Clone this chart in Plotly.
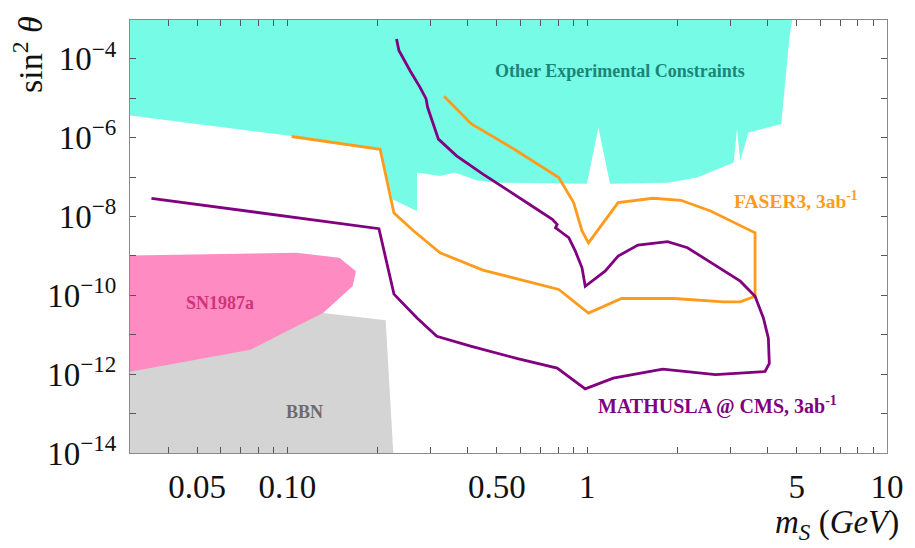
import math
import plotly.graph_objects as go

# ---------------- data ----------------
# MATHUSLA @ CMS, 3ab^-1 sensitivity contour (open polyline)
math_x = [0.0352, 0.202, 0.2267, 0.2706, 0.315, 0.411, 0.586, 0.794, 0.985, 1.221,
          1.786, 2.68, 3.92, 4.05, 4.02, 3.87, 3.63, 3.24, 2.645, 2.16,
          1.855, 1.476, 1.268, 1.147, 0.985, 0.961, 0.913, 0.868, 0.825, 0.784,
          0.794, 0.765, 0.639, 0.536, 0.449, 0.3667, 0.319, 0.2935, 0.29, 0.277,
          0.2566, 0.2355, 0.2312]
math_y = [2.9e-8, 4.9e-9, 1.07e-10, 2.66e-11, 9.1e-12, 5.07e-12, 2.47e-12, 1.42e-12, 4.25e-13, 7.9e-13,
          1.34e-12, 9.7e-13, 1.17e-12, 1.87e-12, 8.2e-12, 2.66e-11, 9.5e-11, 2.29e-10, 6.1e-10, 1.61e-9,
          2.29e-9, 1.88e-9, 9.9e-10, 4.1e-10, 1.7e-10, 5.0e-10, 1.32e-9, 2.89e-9, 3.87e-9, 5.19e-9,
          6.3e-9, 8.5e-9, 2.08e-8, 4.92e-8, 1.19e-7, 3.46e-7, 9.2e-7, 5.9e-6, 9.8e-6, 1.89e-5,
          5.0e-5, 1.63e-4, 3.2e-4]

# FASER3, 3ab^-1 sensitivity contour
faser_x = [0.1033, 0.2038, 0.2267, 0.2639, 0.323, 0.449, 0.804, 1.01, 1.302, 1.951,
           2.854, 3.24, 3.63, 3.63, 2.58, 2.053, 1.655, 1.268, 1.01, 0.961,
           0.901, 0.804, 0.564, 0.411, 0.333]
faser_y = [1.07e-6, 5.07e-7, 1.23e-8, 4.28e-9, 1.2e-9, 4.35e-10, 1.41e-10, 3.56e-11, 8.3e-11, 8.3e-11,
           6.8e-11, 6.8e-11, 9.5e-11, 3.87e-9, 1.38e-8, 2.58e-8, 2.9e-8, 2.25e-8, 2.15e-9, 4.28e-9,
           2.25e-8, 9.7e-8, 5.37e-7, 2.22e-6, 1.12e-5]

# Other experimental constraints (excluded region)
other_x = [0.025, 4.92, 4.74, 4.44, 3.45, 3.24, 3.16, 3.08, 2.33, 1.855, 1.191, 1.09,
           0.998, 0.497, 0.427, 0.362, 0.323, 0.2706, 0.2706, 0.224, 0.2038, 0.102, 0.025]
other_y = [2e-3, 2e-3, 4.3e-4, 2.22e-6, 1.36e-6, 2.58e-7, 1.66e-6, 2.34e-7, 9.7e-8, 7.2e-8, 6.8e-8, 1.82e-6,
           6.8e-8, 7.2e-8, 8.3e-8, 1.3e-7, 1.07e-7, 1.3e-7, 1.38e-8, 2.74e-8, 5.2e-7, 1.12e-6, 4.3e-6]

# SN1987a excluded region
sn_x = [0.025, 0.1073, 0.149, 0.1693, 0.165, 0.1315, 0.0995, 0.0753, 0.025]
sn_y = [1.0e-9, 1.2e-9, 8.95e-10, 4.1e-10, 1.7e-10, 3.56e-11, 1.22e-11, 4.18e-12, 9e-13]

# BBN excluded region
bbn_x = [0.025, 0.025, 0.1315, 0.2127, 0.2295]
bbn_y = [1e-15, 1e-11, 3.56e-11, 2.32e-11, 1e-15]

# tick values / labels
x_tickvals = [0.04, 0.05, 0.06, 0.07, 0.08, 0.09, 0.1, 0.2, 0.3, 0.4, 0.5, 0.6, 0.7, 0.8, 0.9,
              1, 2, 3, 4, 5, 6, 7, 8, 9, 10]
x_ticktext = ["", "0.05", "", "", "", "", "0.10", "", "", "", "0.50", "", "", "", "",
              "1", "", "", "", "5", "", "", "", "", "10"]
y_exponents = [-14, -13, -12, -11, -10, -9, -8, -7, -6, -5, -4]
y_tickvals = [10.0 ** e for e in y_exponents]
y_ticktext = [("10<sup>\u2212%d</sup>" % (-e)) if e % 2 == 0 else "" for e in y_exponents]

# ---------------- styles ----------------
SERIF = "Liberation Serif, Times New Roman, serif"
C_OTHER = "#76FBE6"
C_SN = "#FF8BC3"
C_BBN = "#D4D4D4"
C_FASER = "#FF9B1C"
C_MATH = "#800080"

fig = go.Figure()
fig.add_trace(go.Scatter(x=bbn_x, y=bbn_y, mode="lines", fill="toself", fillcolor=C_BBN,
                         line=dict(width=0, color=C_BBN), hoverinfo="skip", showlegend=False))
fig.add_trace(go.Scatter(x=sn_x, y=sn_y, mode="lines", fill="toself", fillcolor=C_SN,
                         line=dict(width=0, color=C_SN), hoverinfo="skip", showlegend=False))
fig.add_trace(go.Scatter(x=other_x, y=other_y, mode="lines", fill="toself", fillcolor=C_OTHER,
                         line=dict(width=0, color=C_OTHER), hoverinfo="skip", showlegend=False))
fig.add_trace(go.Scatter(x=faser_x, y=faser_y, mode="lines",
                         line=dict(width=2.8, color=C_FASER), hoverinfo="skip", showlegend=False))
fig.add_trace(go.Scatter(x=math_x, y=math_y, mode="lines",
                         line=dict(width=2.8, color=C_MATH), hoverinfo="skip", showlegend=False))

axis_common = dict(
    showgrid=False, zeroline=False, showline=True, linecolor="#8a8a8a", linewidth=1,
    mirror="ticks", ticks="inside", ticklen=6, tickwidth=1, tickcolor="#555555",
    tickfont=dict(family=SERIF, size=33, color="#111111"),
)

fig.update_xaxes(type="log", range=[-1.525, 1.0], tickmode="array",
                 tickvals=x_tickvals, ticktext=x_ticktext, ticklabelstandoff=4, **axis_common)
fig.update_yaxes(type="log", range=[-14.0, -3.015], tickmode="array",
                 tickvals=y_tickvals, ticktext=y_ticktext, ticklabelstandoff=6, **axis_common)

def label(text, lx, ly, color, size):
    fig.add_annotation(x=lx, y=ly, xref="x", yref="y", text="<b>%s</b>" % text,
                       showarrow=False, font=dict(family=SERIF, size=size, color=color),
                       xanchor="center", yanchor="middle")

label("Other Experimental Constraints", 0.109, -4.297, "#1A8577", 18)
label("FASER3, 3ab<sup>-1</sup>", 0.696, -7.593, C_FASER, 19.5)
label("MATHUSLA @ CMS, 3ab<sup>-1</sup>", 0.4356, -12.79, C_MATH, 20)
label("SN1987a", -1.2244, -10.19, "#CF3479", 18)
label("BBN", -0.944, -12.96, "#6B6B6B", 18)

# axis titles
fig.add_annotation(xref="paper", yref="paper", x=-0.135, y=0.921, textangle=-90,
                   text="sin<sup>2</sup> <i>\u03b8</i>", showarrow=False,
                   font=dict(family=SERIF, size=34, color="#111111"),
                   xanchor="center", yanchor="middle")
fig.add_annotation(xref="paper", yref="paper", x=1.018, y=-0.166,
                   text="<i>m<sub>S</sub></i> (<i>GeV</i>)", showarrow=False,
                   font=dict(family=SERIF, size=33, color="#111111"),
                   xanchor="right", yanchor="middle")

fig.update_layout(
    width=907, height=540,
    margin=dict(l=122, r=21, t=11, b=95),
    paper_bgcolor="white", plot_bgcolor="white",
    showlegend=False,
)

fig.write_html("out.html")
